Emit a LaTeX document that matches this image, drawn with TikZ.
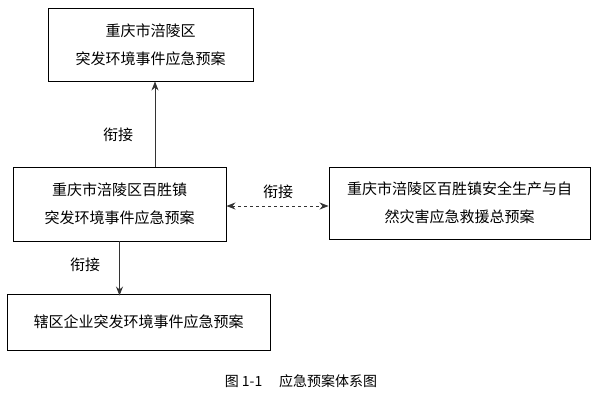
\documentclass[tikz,border=0pt]{standalone}
\usepackage{fontspec}
\setmainfont{Noto Sans CJK SC}
\usetikzlibrary{arrows.meta}

\begin{document}
\begin{tikzpicture}[x=1pt,y=-1pt,
		planbox/.style={draw,line width=0.9pt,align=center,inner sep=0pt,
			font=\fontsize{15}{28}\selectfont},
		link/.style={line width=0.9pt,draw=black!80,-{Stealth[length=9pt,width=7pt]}},
		lbl/.style={font=\fontsize{15}{18}\selectfont}]
		\useasboundingbox (0,0) rectangle (605,400);
		\begin{scope}
			\node[planbox,minimum width=205pt,minimum height=73pt] (city) at (150.5,44.5) {重庆市涪陵区\\突发环境事件应急预案};
			\node[planbox,minimum width=213pt,minimum height=74pt] (town) at (119.5,204) {重庆市涪陵区百胜镇\\突发环境事件应急预案};
			\node[planbox,minimum width=261pt,minimum height=72pt] (safety) at (459.5,203) {重庆市涪陵区百胜镇安全生产与自\\然灾害应急救援总预案};
			\node[planbox,minimum width=263pt,minimum height=56pt] (firm) at (138.5,322) {辖区企业突发环境事件应急预案};
			\node[lbl] (l1) at (118,135) {衔接};
			\node[lbl] (l2) at (278,192) {衔接};
			\node[lbl] (l3) at (85,265) {衔接};
		\end{scope}
		\begin{scope}
			\draw[link] (town.north -| 155,0) to (city.south -| 155,0);
			\draw[link] (town.south) to ([yshift=-2pt]firm.north -| town.south);
			\draw[link,{Stealth[length=9pt,width=7pt]}-{Stealth[length=9pt,width=7pt]},dashed] (town.east |- 0,206) to (safety.west |- 0,206);
		\end{scope}
		\node[font=\fontsize{14}{16}\selectfont] (cap) at (301,381) {图 1-1\hspace{1.2em}应急预案体系图};
	\end{tikzpicture}
\end{document}
